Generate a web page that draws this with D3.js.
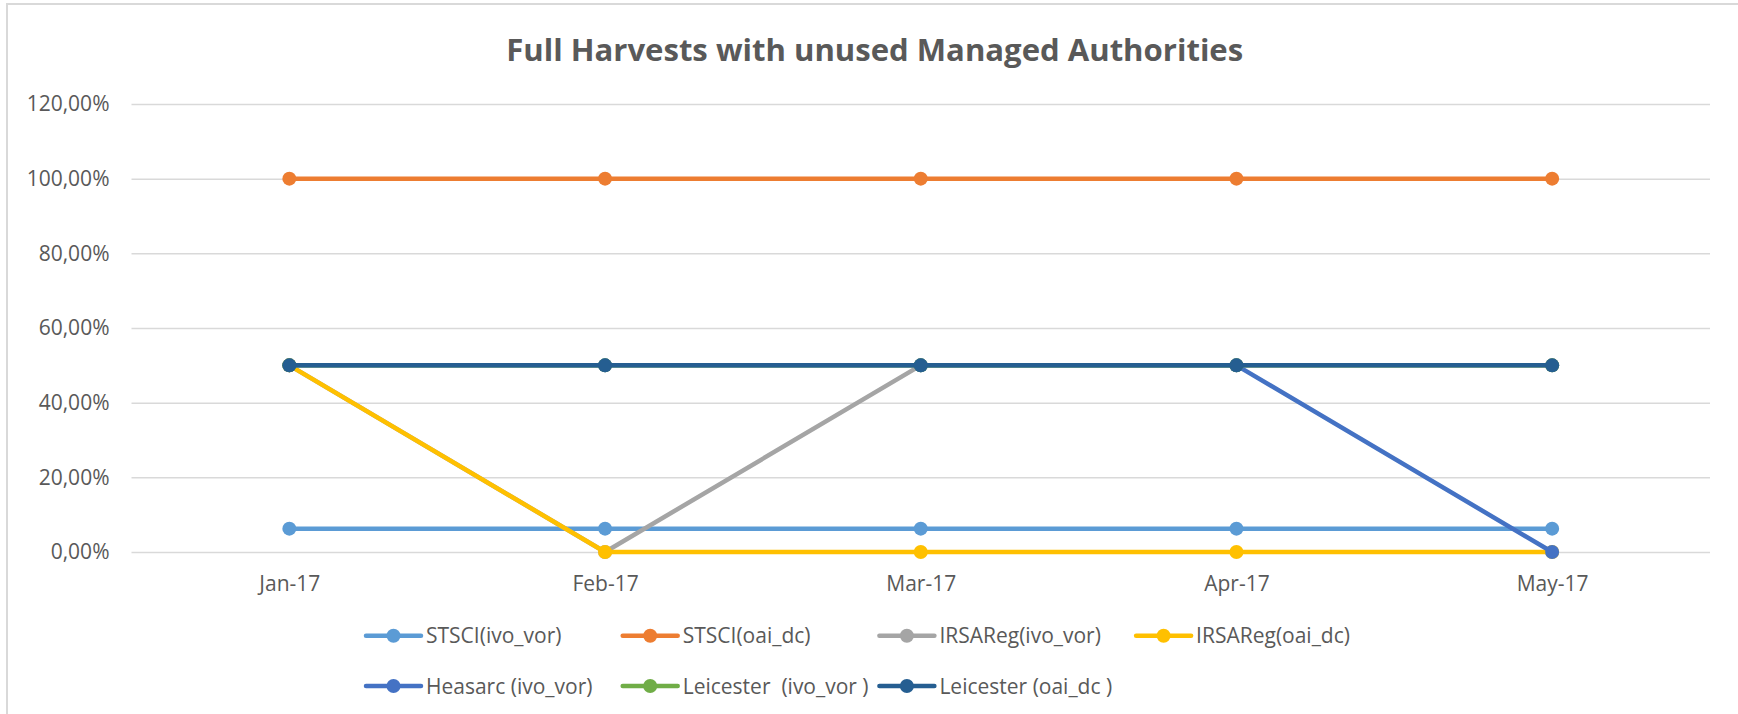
<!DOCTYPE html>
<html>
<head>
<meta charset="utf-8">
<script src="https://cdn.jsdelivr.net/npm/d3@7"></script>
<style>
  body { margin: 0; background: #fff; }
  svg { display: block; font-family: "Open Sans", "Liberation Sans", sans-serif; }
</style>
</head>
<body>
<svg id="chart"></svg>
<script>
// data
const months = ["Jan-17", "Feb-17", "Mar-17", "Apr-17", "May-17"];
const seriesNames = ["STSCI(ivo_vor)", "STSCI(oai_dc)", "IRSAReg(ivo_vor)", "IRSAReg(oai_dc)",
                     "Heasarc (ivo_vor)", "Leicester  (ivo_vor )", "Leicester (oai_dc )"];
const stsciIvo = [0.0625, 0.0625, 0.0625, 0.0625, 0.0625];
const stsciOai = [1, 1, 1, 1, 1];
const irsaIvo = [0.5, 0, 0.5, 0.5, 0.5];
const irsaOai = [0.5, 0, 0, 0, 0];
const heasarcIvo = [0.5, 0.5, 0.5, 0.5, 0];
const leicesterIvo = [0.5, 0.5, 0.5, 0.5, 0.5];
const leicesterOai = [0.5, 0.5, 0.5, 0.5, 0.5];
const yTicks = [0, 0.2, 0.4, 0.6, 0.8, 1.0, 1.2];

const colors = ["#5B9BD5", "#ED7D31", "#A5A5A5", "#FFC000", "#4472C4", "#70AD47", "#255E91"];
const allValues = [stsciIvo, stsciOai, irsaIvo, irsaOai, heasarcIvo, leicesterIvo, leicesterOai];

const width = 1738, height = 714;
const svg = d3.select("#chart").attr("width", width).attr("height", height);

// chart frame (only top/left edge visible in the picture)
svg.append("rect")
    .attr("x", 7).attr("y", 4)
    .attr("width", width + 20).attr("height", height + 20)
    .attr("fill", "none").attr("stroke", "#D9D9D9").attr("stroke-width", 2);

const plot = { left: 131.5, right: 1710, top: 104, bottom: 552 };

const x = d3.scalePoint().domain(months).range([plot.left, plot.right]).padding(0.5);
const y = d3.scaleLinear().domain([0, 1.2]).range([plot.bottom, plot.top]);

// title
svg.append("text")
    .attr("x", 874.7).attr("y", 60.7)
    .attr("text-anchor", "middle")
    .attr("font-size", 31).attr("font-weight", "bold")
    .attr("fill", "#595959")
    .attr("textLength", 737).attr("lengthAdjust", "spacingAndGlyphs")
    .text("Full Harvests with unused Managed Authorities");

// y axis with gridlines
const fmt = v => (v * 100).toFixed(2).replace(".", ",") + "%";
const yAxis = svg.append("g")
    .attr("transform", `translate(${plot.left},0)`)
    .call(d3.axisLeft(y).tickValues(yTicks).tickFormat(fmt)
        .tickSize(-(plot.right - plot.left)).tickPadding(22));
yAxis.select(".domain").remove();
yAxis.selectAll(".tick line").attr("stroke", "#D9D9D9").attr("stroke-width", 1.5);
yAxis.selectAll(".tick text")
    .attr("font-size", 21).attr("fill", "#595959")
    .attr("font-family", "Open Sans, sans-serif");

// x axis labels
const xAxis = svg.append("g")
    .attr("transform", `translate(0,${plot.bottom})`)
    .call(d3.axisBottom(x).tickSize(0));
xAxis.select(".domain").remove();
xAxis.selectAll(".tick text")
    .attr("y", 38.7).attr("dy", 0)
    .attr("font-size", 21).attr("fill", "#595959")
    .attr("font-family", "Open Sans, sans-serif");

// series
const line = d3.line().x((d, i) => x(months[i])).y(d => y(d));
allValues.forEach((vals, s) => {
    const g = svg.append("g");
    g.append("path")
        .attr("d", line(vals))
        .attr("fill", "none")
        .attr("stroke", colors[s])
        .attr("stroke-width", 4.5)
        .attr("stroke-linejoin", "round");
    g.selectAll("circle")
        .data(vals)
        .enter()
        .append("circle")
        .attr("cx", (d, i) => x(months[i]))
        .attr("cy", d => y(d))
        .attr("r", 7)
        .attr("fill", colors[s]);
});

// legend: 4 equal columns, 2 rows
const legend = svg.append("g");
const colW = 256.7, legX = 366, rowY = [635.7, 686];
seriesNames.forEach((name, i) => {
    const gx = legX + (i % 4) * colW;
    const gy = rowY[Math.floor(i / 4)];
    const item = legend.append("g").attr("transform", `translate(${gx},${gy})`);
    item.append("line")
        .attr("x1", 0).attr("x2", 55)
        .attr("stroke", colors[i]).attr("stroke-width", 4.5)
        .attr("stroke-linecap", "round");
    item.append("circle").attr("cx", 27.5).attr("r", 7).attr("fill", colors[i]);
    item.append("text")
        .attr("x", 60).attr("y", 0).attr("dy", "0.36em")
        .attr("font-size", 21).attr("fill", "#595959")
        .attr("xml:space", "preserve")
        .style("white-space", "pre")
        .text(name);
});
</script>
</body>
</html>
